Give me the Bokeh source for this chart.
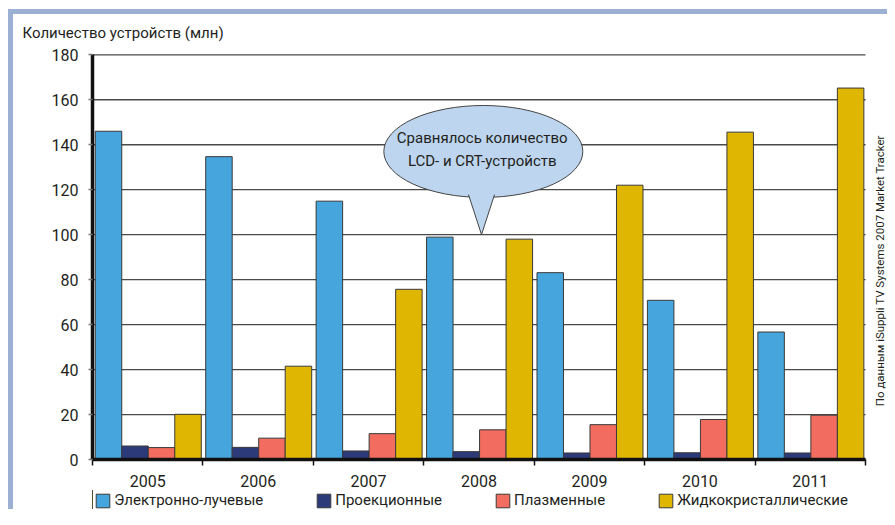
import math
from bokeh.plotting import figure
from bokeh.layouts import column
from bokeh.models import (Range1d, FixedTicker, Legend, LegendItem, Label,
                          ColumnDataSource)
from bokeh.transform import dodge
from bokeh.embed import file_html
from bokeh.resources import INLINE

# ---------------- data ----------------
years = ["2005", "2006", "2007", "2008", "2009", "2010", "2011"]
crt = [146.0, 134.7, 114.9, 98.9, 83.1, 70.8, 56.7]
projection = [6.0, 5.4, 3.8, 3.5, 2.9, 3.0, 2.9]
plasma = [5.3, 9.5, 11.5, 13.2, 15.5, 17.8, 19.7]
lcd = [20.1, 41.5, 75.7, 98.0, 122.0, 145.6, 165.2]
series_names = ["Электронно-лучевые", "Проекционные", "Плазменные", "Жидкокристаллические"]
y_ticks = [0, 20, 40, 60, 80, 100, 120, 140, 160, 180]
y_title = "Количество устройств (млн)"
note_lines = ["Сравнялось количество", "LCD- и CRT-устройств"]
source_note = "По данным iSuppli TV Systems 2007 Market Tracker"

FONT = "Roboto"
TXT = "#231f20"
BORDER = "#9bb0d2"
colors = ["#45a5dc", "#2d3a7a", "#f26d5f", "#dfb703"]
cols = ["crt", "projection", "plasma", "lcd"]
offsets = [-0.355, -0.115, 0.125, 0.365]
BAR_W = 0.24

idx = list(range(len(years)))
n = len(years)
src = ColumnDataSource(dict(idx=idx, crt=crt, projection=projection,
                            plasma=plasma, lcd=lcd))

W = 887
H_MAIN, H_LEG = 490, 19

p = figure(width=W, height=H_MAIN, output_backend="svg", toolbar_location=None,
           x_range=Range1d(-0.5, 6.699), y_range=Range1d(0, 184.58),
           min_border_left=92, min_border_right=0, min_border_top=44,
           min_border_bottom=31)
p.background_fill_color = "white"
p.border_fill_color = None
p.outline_line_color = None

# y title at top-left
p.title.text = y_title
p.title.align = "left"
p.title.offset = -70
p.title.standoff = 6
p.title.text_font = FONT
p.title.text_font_size = "15px"
p.title.text_font_style = "normal"
p.title.text_color = TXT

# horizontal grid lines across the seven year groups
p.xgrid.visible = False
p.ygrid.visible = False
p.segment(x0=-0.5, x1=n - 0.5, y0=y_ticks, y1=y_ticks, line_color="#4a4a4a",
          line_width=1.3)

# bars
for col, c, off in zip(cols, colors, offsets):
    p.vbar(x=dodge("idx", off, range=p.x_range), top=col, width=BAR_W,
           bottom=0, source=src, fill_color=c, line_color="#3a3a3a", line_width=1)

# axes
xa = p.xaxis[0]
xa.bounds = (-0.5, n - 0.5)
xa.ticker = FixedTicker(ticks=idx, minor_ticks=[i - 0.5 for i in range(n + 1)])
xa.major_label_overrides = {i: y for i, y in zip(idx, years)}
xa.major_tick_out = 0
xa.major_tick_in = 0
xa.minor_tick_out = 6
xa.minor_tick_in = 0
xa.minor_tick_line_color = "#111111"
xa.minor_tick_line_width = 1.5
xa.axis_line_width = 3.5
xa.axis_line_color = "#111111"
xa.major_label_text_font = FONT
xa.major_label_text_font_size = "16px"
xa.major_label_text_color = TXT
xa.major_label_standoff = 9

ya = p.yaxis[0]
ya.ticker = FixedTicker(ticks=y_ticks)
ya.bounds = (0, 180)
ya.major_tick_out = 4
ya.major_tick_in = 0
ya.major_tick_line_color = "#777777"
ya.major_tick_line_width = 1.4
ya.minor_tick_line_color = None
ya.axis_line_width = 3.5
ya.axis_line_color = "#111111"
ya.major_label_text_font = FONT
ya.major_label_text_font_size = "16px"
ya.major_label_text_color = TXT
ya.major_label_standoff = 10

# callout bubble (anchored at the 2008 CRT/LCD crossing)
cx, cy = 3.039, 137.0
p.ellipse(x=[cx], y=[cy], width=1.802, height=40.9, fill_color="#bdd5ee",
          line_color="#444444", line_width=1)
tip_x, tip_y = 3.0226, 100.0
p.patch(x=[tip_x - 0.1322, tip_x, tip_x + 0.1322], y=[120.0, tip_y, 120.0],
        fill_color="#bdd5ee", line_color=None)
p.line(x=[tip_x - 0.1177, tip_x, tip_x + 0.1177], y=[117.8, tip_y, 117.8],
       line_color="#444444", line_width=1)
for k, t in enumerate(note_lines):
    p.add_layout(Label(x=cx - 0.01, y=143.0 - k * 10.4, text=t, text_align="center",
                       text_baseline="middle", text_font=FONT,
                       text_font_size="15px", text_color=TXT))

# source note, rotated, at the right edge
p.add_layout(Label(x=6.628, y=84.0, text=source_note, angle=math.pi / 2,
                   text_align="center", text_baseline="middle", text_font=FONT,
                   text_font_size="11.5px", text_color=TXT))

# ---------------- legend strip ----------------
q = figure(width=W, height=H_LEG, output_backend="svg", toolbar_location=None,
           x_range=Range1d(1000, 1000 + W), y_range=Range1d(0, H_LEG),
           x_axis_type=None, y_axis_type=None, min_border=0,
           min_border_left=92)
q.background_fill_color = None
q.border_fill_color = None
q.outline_line_color = None
leg_r = []
for col, c in zip(cols, colors):
    leg_r.append(q.vbar(x="idx", top=col, width=BAR_W, bottom=0, source=src,
                        fill_color=c, line_color="#3a3a3a", line_width=1))
lg = Legend(items=[LegendItem(label=nm, renderers=[r]) for nm, r in zip(series_names, leg_r)],
            location=(2.3, 0), orientation="horizontal", padding=0, margin=0,
            spacing=52, glyph_width=17, glyph_height=17, label_height=17,
            label_standoff=3, border_line_color=None, background_fill_alpha=0,
            label_text_font=FONT, label_text_font_size="15px", label_text_color=TXT)
q.add_layout(lg)

grad = f"linear-gradient({BORDER}, {BORDER})"
layout = column(p, q, spacing=0, styles={
    "background-color": "white",
    "background-image": f"{grad}, {grad}",
    "background-size": "5px 100%, 100% 5px",
    "background-position": "8px 9px, 8px 9px",
    "background-repeat": "no-repeat",
})

open("out.html", "w").write(file_html(layout, INLINE))
